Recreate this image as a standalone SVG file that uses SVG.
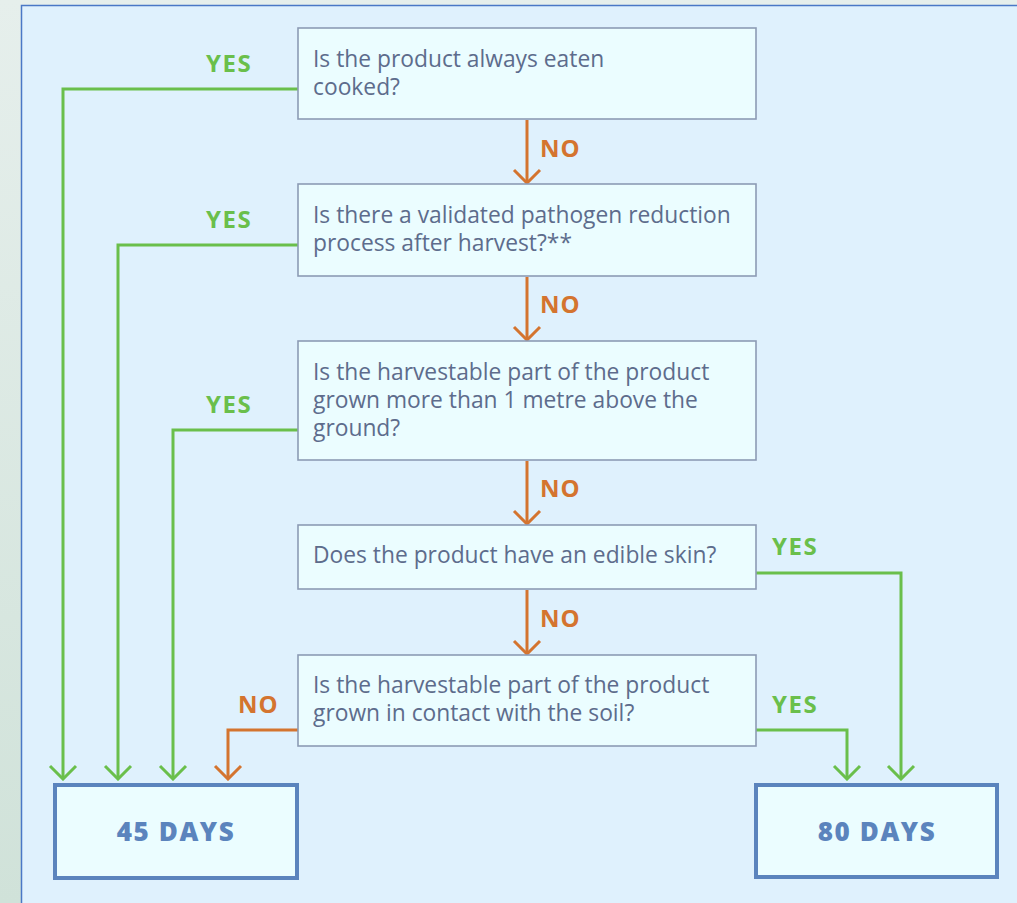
<svg xmlns="http://www.w3.org/2000/svg" width="1017" height="903" viewBox="0 0 1017 903">
<defs>
<linearGradient id="bg" x1="0" y1="0" x2="0" y2="1"><stop offset="0" stop-color="#e6efec"/><stop offset="1" stop-color="#d0e2d9"/></linearGradient>
<marker id="ag" viewBox="0 0 17 30" refX="15" refY="15" markerWidth="17" markerHeight="30" markerUnits="userSpaceOnUse" orient="auto"><polyline points="2,2 15,15 2,28" fill="none" stroke="#6abf4b" stroke-width="3"/></marker>
<marker id="ao" viewBox="0 0 17 30" refX="15" refY="15" markerWidth="17" markerHeight="30" markerUnits="userSpaceOnUse" orient="auto"><polyline points="2,2 15,15 2,28" fill="none" stroke="#d4742f" stroke-width="3"/></marker>
</defs>
<style>
.q{fill:#ebfdff;stroke:#8c9bb5;stroke-width:1.6}
.r{fill:#ebfdff;stroke:#5b84bd;stroke-width:4}
.t{font-family:"Open Sans",Lato,sans-serif;font-size:22.8px;fill:#5d6c8c}
.d{font-family:"Open Sans",Lato,sans-serif;font-size:26px;font-weight:800;fill:#5b84bd;text-anchor:middle;letter-spacing:1.6px}
.y{font-family:"Open Sans",Lato,sans-serif;font-size:24px;font-weight:700;fill:#6abf4b;letter-spacing:1.6px}
.n{font-family:"Open Sans",Lato,sans-serif;font-size:24px;font-weight:700;fill:#d4742f;letter-spacing:1px}
.g{fill:none;stroke:#6abf4b;stroke-width:3;marker-end:url(#ag)}
.o{fill:none;stroke:#d4742f;stroke-width:3;marker-end:url(#ao)}
</style>
<rect x="0" y="0" width="1017" height="903" fill="url(#bg)"/>
<rect x="21.5" y="5.5" width="1010" height="910" fill="#dff1fd" stroke="#4a78c6" stroke-width="1.5"/>
<g id="connectors">
<polyline class="g" points="298,89 63,89 63,779"/>
<polyline class="g" points="298,245 118,245 118,779"/>
<polyline class="g" points="298,430 173,430 173,779"/>
<polyline class="o" points="298,730 228,730 228,779"/>
<polyline class="g" points="756,573 901,573 901,779"/>
<polyline class="g" points="756,730 847,730 847,779"/>
<line class="o" x1="527" y1="120" x2="527" y2="183"/>
<line class="o" x1="527" y1="277" x2="527" y2="340"/>
<line class="o" x1="527" y1="461" x2="527" y2="524"/>
<line class="o" x1="527" y1="590" x2="527" y2="654"/>
<text class="y" x="206" y="72">YES</text>
<text class="y" x="206" y="228">YES</text>
<text class="y" x="206" y="413">YES</text>
<text class="y" x="772" y="555">YES</text>
<text class="y" x="772" y="713">YES</text>
<text class="n" x="540" y="157">NO</text>
<text class="n" x="540" y="313">NO</text>
<text class="n" x="540" y="497">NO</text>
<text class="n" x="540" y="627">NO</text>
<text class="n" x="238" y="713">NO</text>
</g>
<g id="q1"><rect class="q" x="298" y="28" width="458" height="91"/><text class="t" x="313" y="67">Is the product always eaten</text><text class="t" x="313" y="95">cooked?</text></g>
<g id="q2"><rect class="q" x="298" y="184" width="458" height="92"/><text class="t" x="313" y="223">Is there a validated pathogen reduction</text><text class="t" x="313" y="251">process after harvest?**</text></g>
<g id="q3"><rect class="q" x="298" y="341" width="458" height="119"/><text class="t" x="313" y="380">Is the harvestable part of the product</text><text class="t" x="313" y="408">grown more than 1 metre above the</text><text class="t" x="313" y="436">ground?</text></g>
<g id="q4"><rect class="q" x="298" y="525" width="458" height="64"/><text class="t" x="313" y="563">Does the product have an edible skin?</text></g>
<g id="q5"><rect class="q" x="298" y="655" width="458" height="91"/><text class="t" x="313" y="693">Is the harvestable part of the product</text><text class="t" x="313" y="721">grown in contact with the soil?</text></g>
<g id="d45"><rect class="r" x="55" y="785" width="242" height="93"/><text class="d" x="176" y="841">45 DAYS</text></g>
<g id="d80"><rect class="r" x="756" y="785" width="241" height="92"/><text class="d" x="877" y="841">80 DAYS</text></g>
</svg>
